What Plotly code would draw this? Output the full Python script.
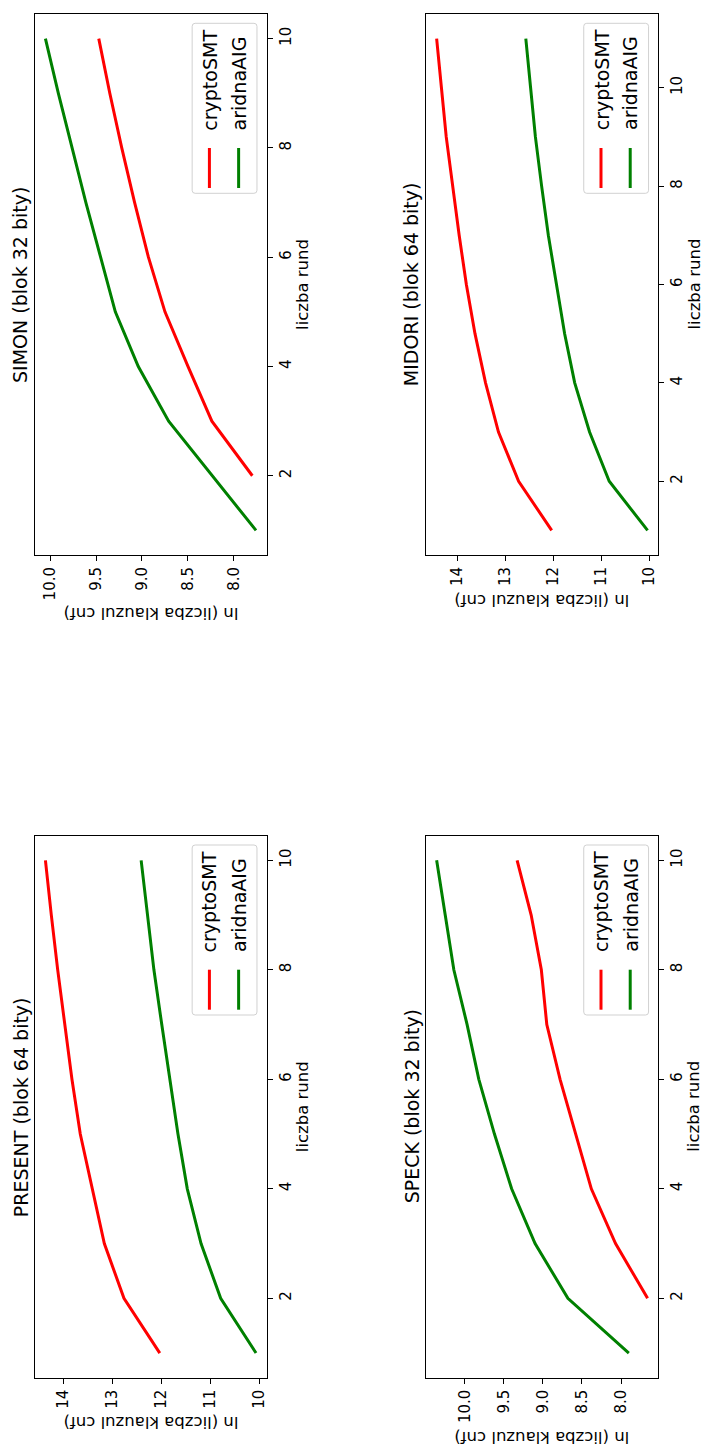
import plotly.graph_objects as go

# ---------------- data ----------------
simon_rounds_aig = [1, 2, 3, 4, 5, 6, 7, 8, 9, 10]
simon_aig = [7.76, 8.24, 8.71, 9.04, 9.29, 9.45, 9.61, 9.76, 9.91, 10.05]
simon_rounds_crypto = [2, 3, 4, 5, 6, 7, 8, 9, 10]
simon_crypto = [7.80, 8.24, 8.50, 8.75, 8.93, 9.08, 9.22, 9.35, 9.47]

midori_rounds = [1, 2, 3, 4, 5, 6, 7, 8, 9, 10, 11]
midori_crypto = [12.03, 12.72, 13.14, 13.41, 13.63, 13.81, 13.96, 14.10, 14.23, 14.33, 14.43]
midori_aig = [10.03, 10.83, 11.24, 11.55, 11.76, 11.93, 12.10, 12.24, 12.37, 12.47, 12.57]

present_rounds = [1, 2, 3, 4, 5, 6, 7, 8, 9, 10]
present_crypto = [12.03, 12.76, 13.16, 13.41, 13.65, 13.82, 13.97, 14.11, 14.24, 14.36]
present_aig = [10.07, 10.79, 11.19, 11.47, 11.66, 11.83, 11.99, 12.15, 12.28, 12.41]

speck_rounds_aig = [1, 2, 3, 4, 5, 6, 7, 8, 9, 10]
speck_aig = [7.90, 8.68, 9.10, 9.40, 9.62, 9.82, 9.97, 10.14, 10.25, 10.36]
speck_rounds_crypto = [2, 3, 4, 5, 6, 7, 8, 9, 10]
speck_crypto = [7.66, 8.07, 8.38, 8.58, 8.78, 8.95, 9.02, 9.15, 9.33]

series_names = ["cryptoSMT", "aridnaAIG"]
series_colors = ["#ff0000", "#008000"]
titles = ["SIMON (blok 32 bity)", "MIDORI (blok 64 bity)",
          "PRESENT (blok 64 bity)", "SPECK (blok 32 bity)"]
round_ticks = [2, 4, 6, 8, 10]
xlabel = "liczba rund"
ylabel = "ln (liczba klauzul cnf)"

# ---------------- layout geometry (pixels) ----------------
W, H = 707, 1450
FONT = "DejaVu Sans"


def fx(p):
    return p / W


def fy(p):
    return 1 - p / H


panels = [
    dict(title=titles[0], l=35, r=267.3, t=14, b=555,
         crypto=(simon_rounds_crypto, simon_crypto), aig=(simon_rounds_aig, simon_aig),
         dtick=0.5, fmt=".1f", lab_off=59),
    dict(title=titles[1], l=427.3, r=660, t=14, b=555,
         crypto=(midori_rounds, midori_crypto), aig=(midori_rounds, midori_aig),
         dtick=1, fmt="d", lab_off=45),
    dict(title=titles[2], l=35, r=267.3, t=835.7, b=1377.7,
         crypto=(present_rounds, present_crypto), aig=(present_rounds, present_aig),
         dtick=1, fmt="d", lab_off=45),
    dict(title=titles[3], l=427.3, r=660, t=835.7, b=1377.7,
         crypto=(speck_rounds_crypto, speck_crypto), aig=(speck_rounds_aig, speck_aig),
         dtick=0.5, fmt=".1f", lab_off=60),
]

fig = go.Figure()
shapes = []
annotations = []


def margin_range(vals):
    lo, hi = min(vals), max(vals)
    m = 0.05 * (hi - lo)
    return lo - m, hi + m


for i, p in enumerate(panels):
    k = "" if i == 0 else str(i + 1)
    xa, ya = "x" + k, "y" + k
    for (rr, vv), name, col in zip([p["crypto"], p["aig"]], series_names, series_colors):
        fig.add_trace(go.Scatter(x=vv, y=rr, mode="lines", name=name,
                                 line=dict(color=col, width=3),
                                 xaxis=xa, yaxis=ya, showlegend=False))
    allv = p["crypto"][1] + p["aig"][1]
    allr = p["crypto"][0] + p["aig"][0]
    vlo, vhi = margin_range(allv)
    rlo, rhi = margin_range(allr)
    axis_common = dict(showline=True, mirror=True, linecolor="black", linewidth=1,
                       ticks="outside", ticklen=5, tickwidth=1, tickcolor="black",
                       showgrid=False, zeroline=False, tickangle=-90,
                       tickfont=dict(family=FONT, size=15, color="black"))
    fig.update_layout(**{
        "xaxis" + k: dict(domain=[fx(p["l"]), fx(p["r"])], anchor=ya,
                          range=[vhi, vlo], tick0=0, dtick=p["dtick"],
                          tickformat=p["fmt"], side="bottom", **axis_common),
        "yaxis" + k: dict(domain=[fy(p["b"]), fy(p["t"])], anchor=xa,
                          range=[rlo, rhi], tickvals=round_ticks, side="right",
                          **axis_common),
    })
    cx = (p["l"] + p["r"]) / 2
    cy = (p["t"] + p["b"]) / 2
    # title
    annotations.append(dict(text=p["title"], x=fx(p["l"] - 14.5), y=fy(cy),
                            xref="paper", yref="paper", showarrow=False,
                            textangle=-90, xanchor="center", yanchor="middle",
                            font=dict(family=FONT, size=19, color="black")))
    # rounds axis label
    annotations.append(dict(text=xlabel, x=fx(p["r"] + 36), y=fy(cy),
                            xref="paper", yref="paper", showarrow=False,
                            textangle=-90, xanchor="center", yanchor="middle",
                            font=dict(family=FONT, size=16.5, color="black")))
    # value axis label (upside down)
    annotations.append(dict(text=ylabel, x=fx(cx), y=fy(p["b"] + p["lab_off"]),
                            xref="paper", yref="paper", showarrow=False,
                            textangle=180, xanchor="center", yanchor="middle",
                            font=dict(family=FONT, size=16.5, color="black")))
    # legend box (rounded)
    L1 = p["r"] - 9.6
    L0 = L1 - 65
    T0 = p["t"] + 9.3
    T1 = T0 + 170
    rad = 3
    path = (f"M {fx(L0 + rad)},{fy(T0)} L {fx(L1 - rad)},{fy(T0)} "
            f"Q {fx(L1)},{fy(T0)} {fx(L1)},{fy(T0 + rad)} "
            f"L {fx(L1)},{fy(T1 - rad)} Q {fx(L1)},{fy(T1)} {fx(L1 - rad)},{fy(T1)} "
            f"L {fx(L0 + rad)},{fy(T1)} Q {fx(L0)},{fy(T1)} {fx(L0)},{fy(T1 - rad)} "
            f"L {fx(L0)},{fy(T0 + rad)} Q {fx(L0)},{fy(T0)} {fx(L0 + rad)},{fy(T0)} Z")
    shapes.append(dict(type="path", path=path, xref="paper", yref="paper",
                       fillcolor="rgba(255,255,255,0.8)",
                       line=dict(color="rgba(204,204,204,0.9)", width=1)))
    for j, (name, col) in enumerate(zip(series_names, series_colors)):
        lx = L0 + 17.3 + j * 29.3
        shapes.append(dict(type="line", xref="paper", yref="paper",
                           x0=fx(lx), x1=fx(lx), y0=fy(T1 - 5.3), y1=fy(T1 - 45.3),
                           line=dict(color=col, width=3)))
        annotations.append(dict(text=name, x=fx(lx + 0.5), y=fy(T1 - 61),
                                xref="paper", yref="paper", showarrow=False,
                                textangle=-90, xanchor="center", yanchor="bottom",
                                font=dict(family=FONT, size=19, color="black")))

fig.update_layout(width=W, height=H, autosize=False,
                  margin=dict(l=0, r=0, t=0, b=0),
                  paper_bgcolor="white", plot_bgcolor="white",
                  showlegend=False, shapes=shapes, annotations=annotations,
                  font=dict(family=FONT, color="black"))

# remove the browser's default 8px body margin so the figure fills the window exactly
fig.write_html("out.html",
               config={"displayModeBar": False},
               post_script="document.body.style.margin='0';document.body.style.overflow='hidden';")
